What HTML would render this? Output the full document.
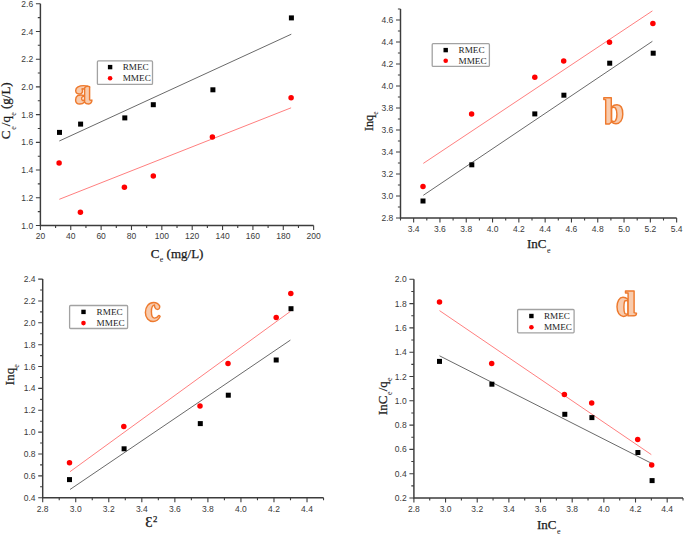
<!DOCTYPE html>
<html><head><meta charset="utf-8"><title>Adsorption isotherm plots</title>
<style>html,body{margin:0;padding:0;background:#fff;}svg{display:block;}</style></head>
<body>
<svg width="685" height="535" viewBox="0 0 685 535">
<rect width="685" height="535" fill="#fff"/>
<path d="M40.4 3.74V225.5H313.64" fill="none" stroke="#3c3c3c" stroke-width="1.45"/>
<path d="M40.4 225.5v4.5M70.76 225.5v4.5M101.12 225.5v4.5M131.48 225.5v4.5M161.84 225.5v4.5M192.2 225.5v4.5M222.56 225.5v4.5M252.92 225.5v4.5M283.28 225.5v4.5M313.64 225.5v4.5M55.58 225.5v2.6M85.94 225.5v2.6M116.3 225.5v2.6M146.66 225.5v2.6M177.02 225.5v2.6M207.38 225.5v2.6M237.74 225.5v2.6M268.1 225.5v2.6M298.46 225.5v2.6M40.4 225.5h-4.5M40.4 197.78h-4.5M40.4 170.06h-4.5M40.4 142.34h-4.5M40.4 114.62h-4.5M40.4 86.9h-4.5M40.4 59.18h-4.5M40.4 31.46h-4.5M40.4 3.74h-4.5M40.4 211.64h-2.6M40.4 183.92h-2.6M40.4 156.2h-2.6M40.4 128.48h-2.6M40.4 100.76h-2.6M40.4 73.04h-2.6M40.4 45.32h-2.6M40.4 17.6h-2.6" fill="none" stroke="#3c3c3c" stroke-width="1.1"/>
<g font-family="Liberation Sans, sans-serif" font-size="8.5" fill="#3a3a3a"><text x="40.4" y="239.3" text-anchor="middle">20</text><text x="70.76" y="239.3" text-anchor="middle">40</text><text x="101.12" y="239.3" text-anchor="middle">60</text><text x="131.48" y="239.3" text-anchor="middle">80</text><text x="161.84" y="239.3" text-anchor="middle">100</text><text x="192.2" y="239.3" text-anchor="middle">120</text><text x="222.56" y="239.3" text-anchor="middle">140</text><text x="252.92" y="239.3" text-anchor="middle">160</text><text x="283.28" y="239.3" text-anchor="middle">180</text><text x="313.64" y="239.3" text-anchor="middle">200</text><text x="33.2" y="228.55" text-anchor="end">1.0</text><text x="33.2" y="200.83" text-anchor="end">1.2</text><text x="33.2" y="173.11" text-anchor="end">1.4</text><text x="33.2" y="145.39" text-anchor="end">1.6</text><text x="33.2" y="117.67" text-anchor="end">1.8</text><text x="33.2" y="89.95" text-anchor="end">2.0</text><text x="33.2" y="62.23" text-anchor="end">2.2</text><text x="33.2" y="34.51" text-anchor="end">2.4</text><text x="33.2" y="6.79" text-anchor="end">2.6</text></g>
<line x1="59.3" y1="141" x2="291.3" y2="34.2" stroke="#6a6a6a" stroke-width="1"/>
<line x1="59.3" y1="199.3" x2="291.1" y2="107.8" stroke="#ff7f7f" stroke-width="1"/>
<rect x="57" y="129.9" width="5" height="5" fill="#000"/>
<rect x="78.1" y="121.6" width="5" height="5" fill="#000"/>
<rect x="122.3" y="115.4" width="5" height="5" fill="#000"/>
<rect x="150.8" y="102.2" width="5" height="5" fill="#000"/>
<rect x="210.4" y="87.3" width="5" height="5" fill="#000"/>
<rect x="288.9" y="15.4" width="5" height="5" fill="#000"/>
<circle cx="59.1" cy="162.9" r="2.75" fill="#f00"/>
<circle cx="80.4" cy="212.3" r="2.75" fill="#f00"/>
<circle cx="124.4" cy="187.2" r="2.75" fill="#f00"/>
<circle cx="153.3" cy="176" r="2.75" fill="#f00"/>
<circle cx="212.4" cy="136.9" r="2.75" fill="#f00"/>
<circle cx="291.1" cy="97.7" r="2.75" fill="#f00"/>
<rect x="97.4" y="60.9" width="55.1" height="23.5" rx="1" fill="#fff" stroke="#a2a2a2" stroke-width="1.3"/>
<rect x="107.9" y="64.9" width="4.4" height="4.4" fill="#000"/>
<circle cx="110.1" cy="78.3" r="2.3" fill="#f00"/>
<g font-family="Liberation Serif, serif" font-size="9.2" fill="#222"><text x="122.7" y="70.2">RMEC</text><text x="122.7" y="80.9">MMEC</text></g>
<path d="M400.5 9V218H676.65" fill="none" stroke="#3c3c3c" stroke-width="1.45"/>
<path d="M413.65 218v4.5M439.95 218v4.5M466.25 218v4.5M492.55 218v4.5M518.85 218v4.5M545.15 218v4.5M571.45 218v4.5M597.75 218v4.5M624.05 218v4.5M650.35 218v4.5M676.65 218v4.5M400.5 218v2.6M426.8 218v2.6M453.1 218v2.6M479.4 218v2.6M505.7 218v2.6M532 218v2.6M558.3 218v2.6M584.6 218v2.6M610.9 218v2.6M637.2 218v2.6M663.5 218v2.6M400.5 218h-4.5M400.5 196h-4.5M400.5 174h-4.5M400.5 152h-4.5M400.5 130h-4.5M400.5 108h-4.5M400.5 86h-4.5M400.5 64h-4.5M400.5 42h-4.5M400.5 20h-4.5M400.5 207h-2.6M400.5 185h-2.6M400.5 163h-2.6M400.5 141h-2.6M400.5 119h-2.6M400.5 97h-2.6M400.5 75h-2.6M400.5 53h-2.6M400.5 31h-2.6M400.5 9h-2.6" fill="none" stroke="#3c3c3c" stroke-width="1.1"/>
<g font-family="Liberation Sans, sans-serif" font-size="8.5" fill="#3a3a3a"><text x="413.65" y="231.8" text-anchor="middle">3.4</text><text x="439.95" y="231.8" text-anchor="middle">3.6</text><text x="466.25" y="231.8" text-anchor="middle">3.8</text><text x="492.55" y="231.8" text-anchor="middle">4.0</text><text x="518.85" y="231.8" text-anchor="middle">4.2</text><text x="545.15" y="231.8" text-anchor="middle">4.4</text><text x="571.45" y="231.8" text-anchor="middle">4.6</text><text x="597.75" y="231.8" text-anchor="middle">4.8</text><text x="624.05" y="231.8" text-anchor="middle">5.0</text><text x="650.35" y="231.8" text-anchor="middle">5.2</text><text x="676.65" y="231.8" text-anchor="middle">5.4</text><text x="393.3" y="221.05" text-anchor="end">2.8</text><text x="393.3" y="199.05" text-anchor="end">3.0</text><text x="393.3" y="177.05" text-anchor="end">3.2</text><text x="393.3" y="155.05" text-anchor="end">3.4</text><text x="393.3" y="133.05" text-anchor="end">3.6</text><text x="393.3" y="111.05" text-anchor="end">3.8</text><text x="393.3" y="89.05" text-anchor="end">4.0</text><text x="393.3" y="67.05" text-anchor="end">4.2</text><text x="393.3" y="45.05" text-anchor="end">4.4</text><text x="393.3" y="23.05" text-anchor="end">4.6</text></g>
<line x1="423.3" y1="195.3" x2="652.4" y2="41.3" stroke="#6a6a6a" stroke-width="1"/>
<line x1="423.3" y1="163.4" x2="652.4" y2="10.9" stroke="#ff7f7f" stroke-width="1"/>
<rect x="420.5" y="198.5" width="5" height="5" fill="#000"/>
<rect x="469.3" y="162.3" width="5" height="5" fill="#000"/>
<rect x="532.3" y="111.4" width="5" height="5" fill="#000"/>
<rect x="561.4" y="92.7" width="5" height="5" fill="#000"/>
<rect x="607.2" y="60.7" width="5" height="5" fill="#000"/>
<rect x="650.7" y="50.7" width="5" height="5" fill="#000"/>
<circle cx="423" cy="186.4" r="2.75" fill="#f00"/>
<circle cx="471.6" cy="114" r="2.75" fill="#f00"/>
<circle cx="534.8" cy="77.3" r="2.75" fill="#f00"/>
<circle cx="563.7" cy="60.9" r="2.75" fill="#f00"/>
<circle cx="609.5" cy="42.3" r="2.75" fill="#f00"/>
<circle cx="652.9" cy="23.6" r="2.75" fill="#f00"/>
<rect x="432.2" y="43.7" width="57.2" height="22.7" rx="1" fill="#fff" stroke="#a2a2a2" stroke-width="1.3"/>
<rect x="443.5" y="47.9" width="4.4" height="4.4" fill="#000"/>
<circle cx="445.7" cy="60.8" r="2.3" fill="#f00"/>
<g font-family="Liberation Serif, serif" font-size="9.2" fill="#222"><text x="458.5" y="53.3">RMEC</text><text x="458.5" y="63.7">MMEC</text></g>
<path d="M42.7 279.1V497.7H323.54" fill="none" stroke="#3c3c3c" stroke-width="1.45"/>
<path d="M42.7 497.7v4.5M75.74 497.7v4.5M108.78 497.7v4.5M141.82 497.7v4.5M174.86 497.7v4.5M207.9 497.7v4.5M240.94 497.7v4.5M273.98 497.7v4.5M307.02 497.7v4.5M59.22 497.7v2.6M92.26 497.7v2.6M125.3 497.7v2.6M158.34 497.7v2.6M191.38 497.7v2.6M224.42 497.7v2.6M257.46 497.7v2.6M290.5 497.7v2.6M323.54 497.7v2.6M42.7 497.7h-4.5M42.7 475.84h-4.5M42.7 453.98h-4.5M42.7 432.12h-4.5M42.7 410.26h-4.5M42.7 388.4h-4.5M42.7 366.54h-4.5M42.7 344.68h-4.5M42.7 322.82h-4.5M42.7 300.96h-4.5M42.7 279.1h-4.5M42.7 486.77h-2.6M42.7 464.91h-2.6M42.7 443.05h-2.6M42.7 421.19h-2.6M42.7 399.33h-2.6M42.7 377.47h-2.6M42.7 355.61h-2.6M42.7 333.75h-2.6M42.7 311.89h-2.6M42.7 290.03h-2.6" fill="none" stroke="#3c3c3c" stroke-width="1.1"/>
<g font-family="Liberation Sans, sans-serif" font-size="8.5" fill="#3a3a3a"><text x="42.7" y="511.5" text-anchor="middle">2.8</text><text x="75.74" y="511.5" text-anchor="middle">3.0</text><text x="108.78" y="511.5" text-anchor="middle">3.2</text><text x="141.82" y="511.5" text-anchor="middle">3.4</text><text x="174.86" y="511.5" text-anchor="middle">3.6</text><text x="207.9" y="511.5" text-anchor="middle">3.8</text><text x="240.94" y="511.5" text-anchor="middle">4.0</text><text x="273.98" y="511.5" text-anchor="middle">4.2</text><text x="307.02" y="511.5" text-anchor="middle">4.4</text><text x="35.5" y="500.75" text-anchor="end">0.4</text><text x="35.5" y="478.89" text-anchor="end">0.6</text><text x="35.5" y="457.03" text-anchor="end">0.8</text><text x="35.5" y="435.17" text-anchor="end">1.0</text><text x="35.5" y="413.31" text-anchor="end">1.2</text><text x="35.5" y="391.45" text-anchor="end">1.4</text><text x="35.5" y="369.59" text-anchor="end">1.6</text><text x="35.5" y="347.73" text-anchor="end">1.8</text><text x="35.5" y="325.87" text-anchor="end">2.0</text><text x="35.5" y="304.01" text-anchor="end">2.2</text><text x="35.5" y="282.15" text-anchor="end">2.4</text></g>
<line x1="70" y1="489.5" x2="290.4" y2="340.1" stroke="#6a6a6a" stroke-width="1"/>
<line x1="70" y1="471.7" x2="290.4" y2="311.4" stroke="#ff7f7f" stroke-width="1"/>
<rect x="67" y="477.1" width="5" height="5" fill="#000"/>
<rect x="121.6" y="446.3" width="5" height="5" fill="#000"/>
<rect x="197.8" y="421.1" width="5" height="5" fill="#000"/>
<rect x="225.8" y="392.7" width="5" height="5" fill="#000"/>
<rect x="273.7" y="357.5" width="5" height="5" fill="#000"/>
<rect x="288.5" y="306.2" width="5" height="5" fill="#000"/>
<circle cx="69.5" cy="462.7" r="2.75" fill="#f00"/>
<circle cx="123.8" cy="426.5" r="2.75" fill="#f00"/>
<circle cx="200" cy="406" r="2.75" fill="#f00"/>
<circle cx="228" cy="363.4" r="2.75" fill="#f00"/>
<circle cx="276.2" cy="317.4" r="2.75" fill="#f00"/>
<circle cx="290.8" cy="293.5" r="2.75" fill="#f00"/>
<rect x="69.6" y="305.5" width="58" height="23" rx="1" fill="#fff" stroke="#a2a2a2" stroke-width="1.3"/>
<rect x="81.3" y="309.7" width="4.4" height="4.4" fill="#000"/>
<circle cx="83.5" cy="323.1" r="2.3" fill="#f00"/>
<g font-family="Liberation Serif, serif" font-size="9.2" fill="#222"><text x="96.6" y="315.1">RMEC</text><text x="96.6" y="326">MMEC</text></g>
<path d="M413.9 279.3V498H683.01" fill="none" stroke="#3c3c3c" stroke-width="1.45"/>
<path d="M413.9 498v4.5M445.56 498v4.5M477.22 498v4.5M508.88 498v4.5M540.54 498v4.5M572.2 498v4.5M603.86 498v4.5M635.52 498v4.5M667.18 498v4.5M429.73 498v2.6M461.39 498v2.6M493.05 498v2.6M524.71 498v2.6M556.37 498v2.6M588.03 498v2.6M619.69 498v2.6M651.35 498v2.6M683.01 498v2.6M413.9 498h-4.5M413.9 473.7h-4.5M413.9 449.4h-4.5M413.9 425.1h-4.5M413.9 400.8h-4.5M413.9 376.5h-4.5M413.9 352.2h-4.5M413.9 327.9h-4.5M413.9 303.6h-4.5M413.9 279.3h-4.5M413.9 485.85h-2.6M413.9 461.55h-2.6M413.9 437.25h-2.6M413.9 412.95h-2.6M413.9 388.65h-2.6M413.9 364.35h-2.6M413.9 340.05h-2.6M413.9 315.75h-2.6M413.9 291.45h-2.6" fill="none" stroke="#3c3c3c" stroke-width="1.1"/>
<g font-family="Liberation Sans, sans-serif" font-size="8.5" fill="#3a3a3a"><text x="413.9" y="511.8" text-anchor="middle">2.8</text><text x="445.56" y="511.8" text-anchor="middle">3.0</text><text x="477.22" y="511.8" text-anchor="middle">3.2</text><text x="508.88" y="511.8" text-anchor="middle">3.4</text><text x="540.54" y="511.8" text-anchor="middle">3.6</text><text x="572.2" y="511.8" text-anchor="middle">3.8</text><text x="603.86" y="511.8" text-anchor="middle">4.0</text><text x="635.52" y="511.8" text-anchor="middle">4.2</text><text x="667.18" y="511.8" text-anchor="middle">4.4</text><text x="406.7" y="501.05" text-anchor="end">0.2</text><text x="406.7" y="476.75" text-anchor="end">0.4</text><text x="406.7" y="452.45" text-anchor="end">0.6</text><text x="406.7" y="428.15" text-anchor="end">0.8</text><text x="406.7" y="403.85" text-anchor="end">1.0</text><text x="406.7" y="379.55" text-anchor="end">1.2</text><text x="406.7" y="355.25" text-anchor="end">1.4</text><text x="406.7" y="330.95" text-anchor="end">1.6</text><text x="406.7" y="306.65" text-anchor="end">1.8</text><text x="406.7" y="282.35" text-anchor="end">2.0</text></g>
<line x1="439.5" y1="355.8" x2="651.3" y2="463.2" stroke="#6a6a6a" stroke-width="1"/>
<line x1="439.5" y1="310.6" x2="651.3" y2="454.6" stroke="#ff7f7f" stroke-width="1"/>
<rect x="437" y="358.9" width="5" height="5" fill="#000"/>
<rect x="489.4" y="381.7" width="5" height="5" fill="#000"/>
<rect x="562.3" y="411.8" width="5" height="5" fill="#000"/>
<rect x="589.4" y="415.1" width="5" height="5" fill="#000"/>
<rect x="635.4" y="450" width="5" height="5" fill="#000"/>
<rect x="649.6" y="478.1" width="5" height="5" fill="#000"/>
<circle cx="439.5" cy="301.9" r="2.75" fill="#f00"/>
<circle cx="491.7" cy="363.6" r="2.75" fill="#f00"/>
<circle cx="564.4" cy="394.4" r="2.75" fill="#f00"/>
<circle cx="591.7" cy="403" r="2.75" fill="#f00"/>
<circle cx="637.7" cy="439.6" r="2.75" fill="#f00"/>
<circle cx="651.7" cy="464.9" r="2.75" fill="#f00"/>
<rect x="517.6" y="309.5" width="56.5" height="23.3" rx="1" fill="#fff" stroke="#a2a2a2" stroke-width="1.3"/>
<rect x="529.2" y="313.8" width="4.4" height="4.4" fill="#000"/>
<circle cx="531.4" cy="327.3" r="2.3" fill="#f00"/>
<g font-family="Liberation Serif, serif" font-size="9.2" fill="#222"><text x="543.9" y="319.4">RMEC</text><text x="543.9" y="330.4">MMEC</text></g>
<g font-family="Liberation Serif, serif" font-size="13" fill="#1a1a1a" stroke="#1a1a1a" stroke-width="0.25"><text x="150.7" y="258">C<tspan font-size="8" stroke-width="0" dx="0.4" dy="3.8">e</tspan><tspan dy="-3.8"> (mg/L)</tspan></text><text transform="translate(10.3 139.2) rotate(-90)">C<tspan font-size="8" stroke-width="0" dx="0.8" dy="5.5">e</tspan><tspan dy="-5.5">/q</tspan><tspan font-size="8" stroke-width="0" dx="0.2" dy="5.5">e</tspan><tspan dy="-5.5"> (g/L)</tspan></text><text x="526.9" y="247.9">InC<tspan font-size="8" stroke-width="0" dx="0.6" dy="5">e</tspan></text><text transform="translate(372.8 131.1) rotate(-90)" font-size="12.2">Inq<tspan font-size="7.5" stroke-width="0" dx="0.1" dy="4.8">e</tspan></text><text x="145.2" y="527.4" font-size="14.5">Ɛ<tspan font-size="8.8" x="153" y="522.3">2</tspan></text><text transform="translate(13.8 385.2) rotate(-90)">Inq<tspan font-size="8" stroke-width="0" dx="0" dy="5">e</tspan></text><text x="537" y="528.7">InC<tspan font-size="8" stroke-width="0" dx="0.6" dy="5">e</tspan></text><text transform="translate(387.2 415) rotate(-90)">InC<tspan font-size="8" stroke-width="0" dx="0.6" dy="5">e</tspan><tspan dy="-5">/q</tspan><tspan font-size="8" stroke-width="0" dx="0.3" dy="5">e</tspan></text></g>
<g stroke="#ee7a2e" stroke-width="1.45" stroke-linejoin="round"><path d="M84.6 95.6C82 94.7 79.4 94.8 77.6 95.7C76.1 96.6 75.6 98.2 75.6 99.9C75.6 102.4 77.4 104 79.8 104C81.8 104 83.5 103.1 84.6 101.9Z" fill="#f8cbad"/><path d="M84.6 96.6C83.2 96 82.1 96.6 81.7 97.9C81.5 99 81.9 100.2 82.8 100.5C83.5 100.6 84.1 100.3 84.6 99.9Z" fill="#fff"/><path d="M79 94C77 94 75.7 92.6 75.7 90.6C75.7 87.6 79.2 85.6 83.6 85.6C86.6 85.6 88.6 86.2 89.5 87.4L84.6 89.2C83.6 88.7 82.8 88.7 82 88.9C82.3 89.5 82.5 90.2 82.5 90.9C82.5 92.7 81 94 79 94Z" fill="#f8cbad"/><path d="M84.6 87.8C85.6 86.4 87.6 86 89.6 86.6L89.6 99.8C90.3 100.4 91 100.3 91.9 100.1C92 102.1 90.6 104 88.7 104C86.8 104 85.4 103.3 84.6 102.2Z" fill="#f8cbad"/></g>
<g stroke="#ee7a2e" stroke-width="1.45" stroke-linejoin="round"><path d="M611.6 107C613.4 105.2 615.3 104.8 617 104.8C620.7 104.8 622.8 108.7 622.8 114.2C622.8 119.9 620 123.7 616 123.7C614.1 123.7 612.6 123 611.6 122Z" fill="#f8cbad"/><path d="M611.6 108.1C612.8 107.2 614.5 107.2 615.4 108C616.5 109.5 616.9 111.9 616.9 114.2C616.9 116.9 616.5 119.4 615.4 120.7C614.5 121.5 612.8 121.5 611.6 120.7Z" fill="#fff"/><path d="M603.8 98.5L603.8 97.7L611.3 97.7L611.3 122.3L609.3 124L605.7 124L605.7 99.6L603.8 99.6Z" fill="#f8cbad"/></g>
<g stroke="#ee7a2e" stroke-width="1.45" stroke-linejoin="round"><path d="M159.6 305.8C158.3 303.3 156.1 302.4 153.6 302.4C148.7 302.4 145.4 307.1 145.4 312.4C145.4 317.8 148.8 321.5 153.1 321.5C156.2 321.5 158.6 319.7 160.1 316.5C159.7 315.6 159.1 315.3 158.6 315.6C157.4 317.5 156 318.1 154.6 318.1C152.3 318.1 151.4 314.9 151.4 311.5C151.4 307.6 152.5 305.3 154.5 304.9C154.3 306.7 155.2 309.3 157.3 309.4C158.9 309.5 159.8 308.1 159.7 306.6Z" fill="#f8cbad"/></g>
<g stroke="#ee7a2e" stroke-width="1.45" stroke-linejoin="round"><path d="M627.8 299C626 297.7 624.5 297.3 623 297.3C619.3 297.3 617 301.5 617 306.8C617 312.3 619.6 316.4 623.5 316.4C625.2 316.4 626.8 315.7 627.8 314.5Z" fill="#f8cbad"/><path d="M628 301.1C627 300.4 625.5 300.4 624.7 301.1C624.1 302.7 623.9 305 623.9 307.3C623.9 310 624.2 312.3 624.8 313.5C625.6 314.2 627 314.2 628 313.5Z" fill="#fff"/><path d="M625.5 291L634.1 291L634.1 312.7C634.8 313.1 635.7 313.1 636.5 313.2C636.4 314.8 635.5 315.8 634 315.8L628.1 315.9L628.1 293L625.5 293Z" fill="#f8cbad"/></g>
</svg>
</body></html>
